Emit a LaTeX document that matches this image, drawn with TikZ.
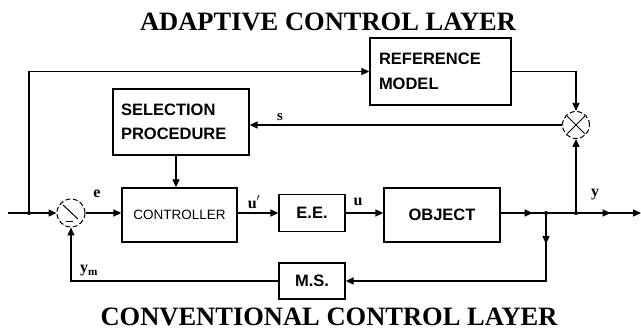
\documentclass[tikz,border=0pt]{standalone}
\usepackage{fontspec}
\setmainfont{Liberation Serif}
\newfontfamily\arialf{Liberation Sans}
\usetikzlibrary{arrows.meta,decorations.markings,calc}
\begin{document}
\begin{tikzpicture}[x=1pt,y=-1pt,
  line width=1.3pt,
  >={Triangle[length=8pt,width=7pt]},
  blk/.style={draw, rectangle, inner sep=0pt, font=\arialf\bfseries\fontsize{16.5}{24.5}\selectfont},
  lbl/.style={font=\bfseries\fontsize{16}{16}\selectfont, inner sep=0pt},
  ttl/.style={font=\bfseries\fontsize{26.5}{30}\selectfont, inner sep=0pt},
  junc/.style={draw, circle, dash pattern=on 5pt off 2.5pt, minimum size=28pt, inner sep=0pt, line width=1pt},
  dot/.style={circle, fill, inner sep=0pt, minimum size=4pt},
]
\useasboundingbox (0,0) rectangle (641,331);

% titles
\node[ttl] (t1) at (328,22) {ADAPTIVE CONTROL LAYER};
\node[ttl] (t2) at (329,317) {CONVENTIONAL CONTROL LAYER};

% blocks
\node[blk, minimum width=141pt, minimum height=67pt, text width=123pt, align=left] (ref) at (440.5,71.5) {REFERENCE\\MODEL};
\node[blk, minimum width=136pt, minimum height=66pt, text width=120pt, align=left] (sel) at (181,122) {SELECTION\\PROCEDURE};
\node[blk, minimum width=115pt, minimum height=54pt, font=\arialf\fontsize{13.5}{16}\selectfont] (ctrl) at (179.5,215) {CONTROLLER};
\node[blk, minimum width=66pt, minimum height=37pt] (ee) at (312,213) {E.E.};
\node[blk, minimum width=116pt, minimum height=54pt] (obj) at (442,215) {OBJECT};
\node[blk, minimum width=66pt, minimum height=36pt] (ms) at (312,281) {M.S.};

% junctions
\node[junc] (sum) at (71,213) {};
\node[junc, minimum size=27pt] (mult) at (576,125) {};
\draw[line width=1pt] ($(sum)+(-8,-8)$) -- ($(sum)+(7,6)$);
\draw[line width=1pt] ($(sum)+(-5,9)$) -- ($(sum)+(2,9)$);
\draw[line width=1pt] ($(mult)+(-9,-9)$) -- ($(mult)+(9,9)$);
\draw[line width=1pt] ($(mult)+(-9,9)$) -- ($(mult)+(9,-9)$);

% coordinates
\coordinate (in) at (8,213);
\coordinate (j1) at (29,213);
\coordinate (j2) at (546,213);
\coordinate (j3) at (576,213);
\coordinate (out) at (641,213);

% connectors
\draw[->] (in) -- (sum.west);
\draw[->] (j1) |- (ref.west);
\draw[->] (ref.east) -| (mult.north);
\draw[->] (mult.west) -- (mult.west -| sel.east);
\draw[->] ([xshift=-5pt]sel.south) -- ([xshift=-5pt]sel.south |- ctrl.north);
\draw[->] (sum.east) -- (sum.east -| ctrl.west);
\draw[->] (ctrl.east |- ee.west) -- (ee.west);
\draw[->] (ee.east) -- (ee.east -| obj.west);
\draw[->, postaction={decorate}, decoration={markings,
    mark=at position 32pt with {\arrow{>}},
    mark=at position 110pt with {\arrow{>}}}] (obj.east |- j2) -- (out);
\draw[->, postaction={decorate}, decoration={markings,
    mark=at position 31pt with {\arrow{>}}}] (j2) |- (ms.east);
\draw[->] (ms.west) -| (sum.south);
\draw[->] (j3) -- (mult.south);

\node[dot] (d1) at (j1) {};
\node[dot] (d2) at (j2) {};
\node[dot] (d3) at (j3) {};

% labels
\node[lbl] (le) at (97,194) {e};
\node[lbl] (lu1) at (254,202) {u$'$};
\node[lbl] (lu2) at (358,202) {u};
\node[lbl, font=\bfseries\fontsize{15}{15}\selectfont] (ls) at (280,117) {s};
\node[lbl] (ly) at (595,195) {y};
\node[lbl] (lym) at (89,271) {y\textsubscript{m}};
\end{tikzpicture}
\end{document}
